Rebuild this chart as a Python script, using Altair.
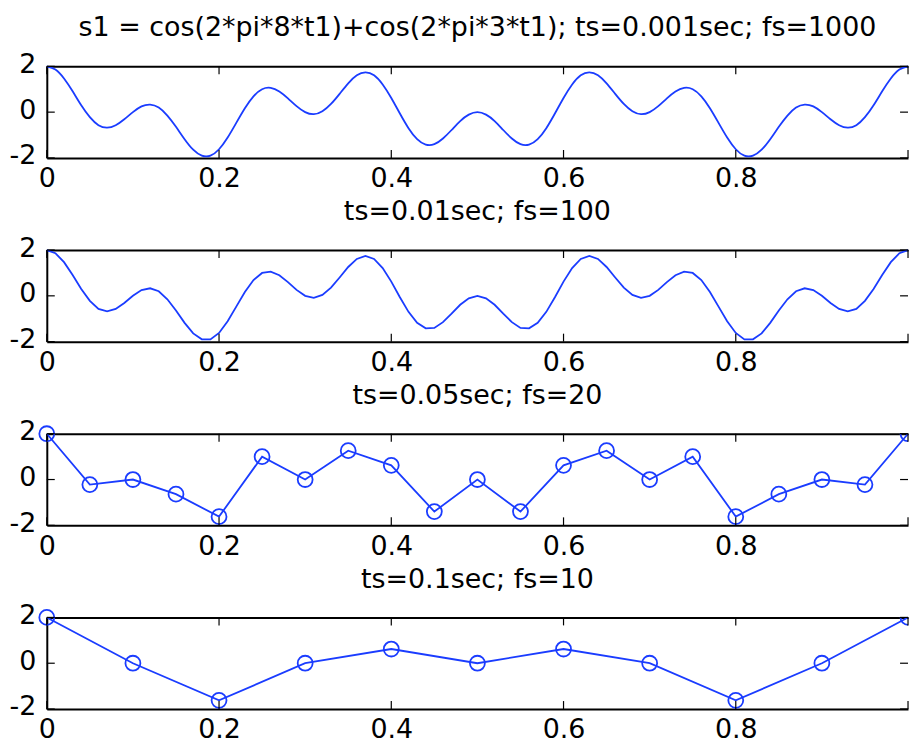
import altair as alt
import pandas as pd

BLUE = "#1a3cff"
FONT = "DejaVu Sans"

# sample times
t_100 = [round(i * 0.01, 2) for i in range(101)]
t_20 = [round(i * 0.05, 2) for i in range(21)]
t_10 = [round(i * 0.1, 1) for i in range(11)]

# values (ts = 0.01 s)
s_100 = [
    2.00, 1.86, 1.47, 0.91, 0.30, -0.22, -0.57, -0.68, -0.57, -0.31,
    0.00, 0.25, 0.33, 0.20, -0.15, -0.64, -1.18, -1.64, -1.90, -1.90,
    -1.62, -1.11, -0.47, 0.17, 0.69, 1.00, 1.06, 0.90, 0.60, 0.26,
    0.00, -0.09, 0.04, 0.36, 0.80, 1.26, 1.61, 1.74, 1.61, 1.21,
    0.62, -0.06, -0.70, -1.18, -1.42, -1.40, -1.15, -0.78, -0.39, -0.11,
    0.00, -0.11, -0.39, -0.78, -1.15, -1.40, -1.42, -1.18, -0.70, -0.06,
    0.62, 1.21, 1.61, 1.74, 1.61, 1.26, 0.80, 0.36, 0.04, -0.09,
    0.00, 0.26, 0.60, 0.90, 1.06, 1.00, 0.69, 0.17, -0.47, -1.11,
    -1.62, -1.90, -1.90, -1.64, -1.18, -0.64, -0.15, 0.20, 0.33, 0.25,
    0.00, -0.31, -0.57, -0.68, -0.57, -0.22, 0.30, 0.91, 1.47, 1.86,
    2.00,
]
# ts = 0.05 s
s_20 = [2.00, -0.22, 0.00, -0.64, -1.62, 1.00, 0.00, 1.26, 0.62, -1.40, 0.00,
        -1.40, 0.62, 1.26, 0.00, 1.00, -1.62, -0.64, 0.00, -0.22, 2.00]
# ts = 0.1 s
s_10 = [2.00, 0.00, -1.62, 0.00, 0.62, 0.00, 0.62, 0.00, -1.62, 0.00, 2.00]

x_ticks = [0, 0.2, 0.4, 0.6, 0.8, 1]
y_ticks = [-2, 0, 2]

titles = [
    "s1 = cos(2*pi*8*t1)+cos(2*pi*3*t1); ts=0.001sec; fs=1000",
    "ts=0.01sec; fs=100",
    "ts=0.05sec; fs=20",
    "ts=0.1sec; fs=10",
]

W, H = 865, 92
TICK = 8

xs = alt.Scale(domain=[0, 1], nice=False, zero=False)
ys = alt.Scale(domain=[-2, 2], nice=False, zero=False)

x_main = alt.X("t:Q", scale=xs, axis=alt.Axis(
    values=x_ticks, format="~g", title=None, orient="bottom",
    labelExpr="datum.value == 1 ? '' : datum.label", labelFlush=False,
    domain=True, domainColor="black", domainWidth=2,
    labelBaseline="alphabetic", labelPadding=29))
x_top = alt.X("t:Q", scale=xs, axis=alt.Axis(
    orient="top", labels=False, title=None, domain=True,
    domainColor="black", domainWidth=2))
x_none = alt.X("t:Q", scale=xs, axis=None)
y_main = alt.Y("s:Q", scale=ys, axis=alt.Axis(
    values=y_ticks, labelExpr="'' + datum.value", title=None,
    labelOffset=-2, labelPadding=11, labelFlush=False,
    domain=True, domainColor="black", domainWidth=2))
y_none = alt.Y("s:Q", scale=ys, axis=None)

xt_df = pd.DataFrame({"t": x_ticks})
yt_df = pd.DataFrame({"s": y_ticks})


def panel(t, s, title, markers, interp, offset):
    df = pd.DataFrame({"t": t, "s": s})
    base = alt.Chart(df)
    layers = [base.mark_line(color=BLUE, strokeWidth=1.8, interpolate=interp)
              .encode(x=x_main, y=y_main)]
    if markers:
        pt = dict(shape="circle", filled=False, size=225, strokeWidth=1.8,
                  color=BLUE, opacity=1)
        layers.append(base.transform_filter("datum.t < 1").mark_point(**pt)
                      .encode(x=x_none, y=y_none))
        layers.append(base.transform_filter("datum.t >= 1").mark_point(clip=True, **pt)
                      .encode(x=x_none, y=y_none))
    xt = alt.Chart(xt_df)
    yt = alt.Chart(yt_df)
    layers += [
        xt.mark_rule(color="black", strokeWidth=1.2).encode(x=x_top, y=alt.value(0), y2=alt.value(TICK)),
        xt.mark_rule(color="black", strokeWidth=1.2).encode(x=x_none, y=alt.value(H - TICK), y2=alt.value(H)),
        yt.mark_rule(color="black", strokeWidth=1.2).encode(y=y_none, x=alt.value(0), x2=alt.value(TICK)),
        yt.mark_rule(color="black", strokeWidth=1.2).encode(y=y_none, x=alt.value(W - TICK), x2=alt.value(W)),
    ]
    return alt.layer(*layers).resolve_axis(x="independent", y="independent").properties(
        width=W, height=H,
        title=alt.TitleParams(title, font=FONT, fontSize=27, fontWeight="normal",
                              color="black", anchor="middle", baseline="alphabetic",
                              offset=offset),
    )


p1 = panel(t_100, s_100, titles[0], False, "natural", -13)
p2 = panel(t_100, s_100, titles[1], False, "linear", -13)
p3 = panel(t_20, s_20, titles[2], True, "linear", -13)
p4 = panel(t_10, s_10, titles[3], True, "linear", -13)

chart = alt.vconcat(p1, p2, p3, p4, spacing=6.5).properties(
    padding={"left": 9, "top": 13, "right": 0, "bottom": 0},
    background="white",
).configure_view(
    stroke=None
).configure_axis(
    ticks=False, grid=False,
    labelFont=FONT, labelFontSize=27, labelColor="black",
)

chart.save("out.html", embed_options={"renderer": "svg", "actions": False})
